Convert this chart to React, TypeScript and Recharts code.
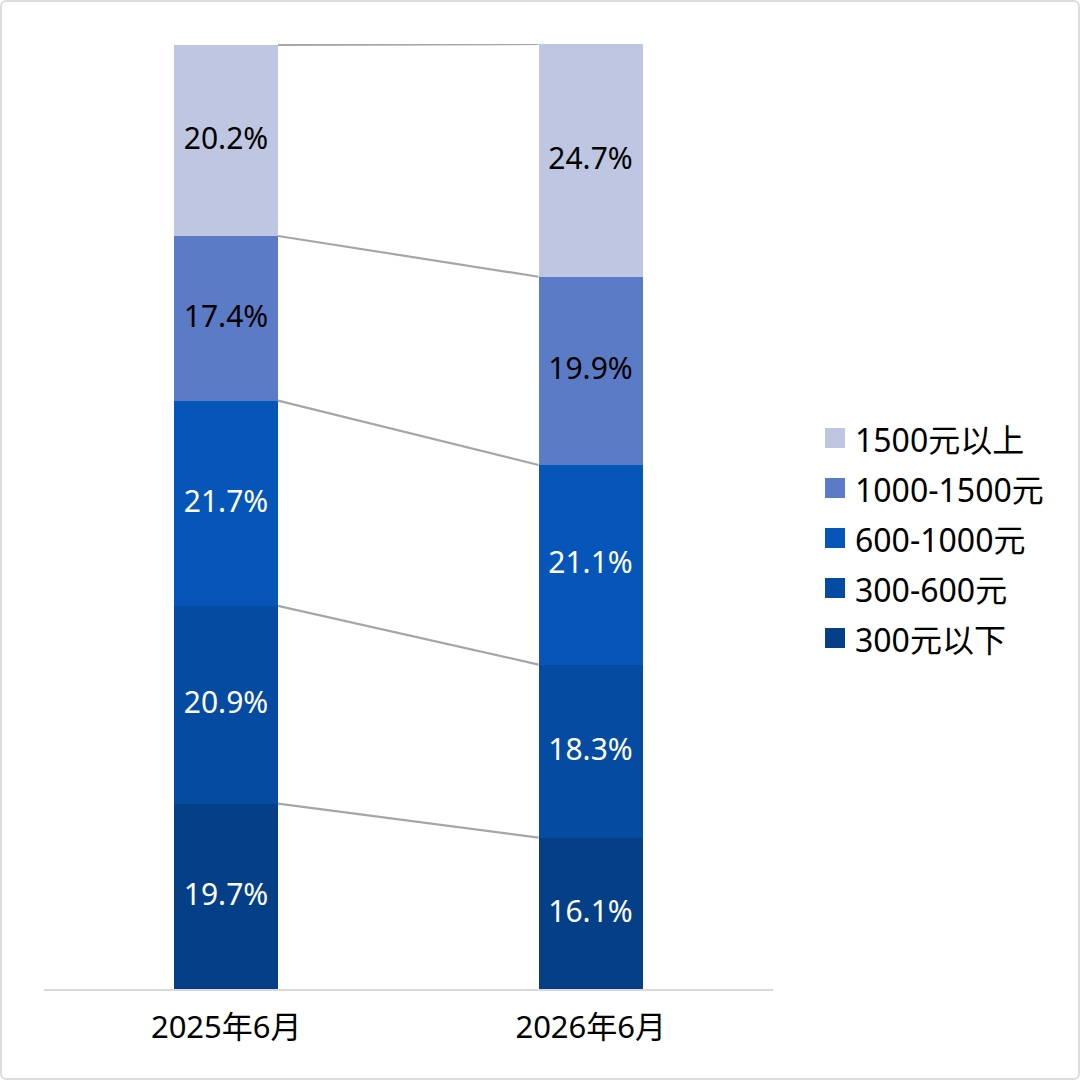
import { Bar, BarChart, LabelList, Legend, XAxis, YAxis } from "recharts";

const periods = ["2025年6月", "2026年6月"];
const below300 = [19.7, 16.1];
const from300to600 = [20.9, 18.3];
const from600to1000 = [21.7, 21.1];
const from1000to1500 = [17.4, 19.9];
const above1500 = [20.2, 24.7];

const series = [
	{ key: "below300", name: "300元以下", values: below300, color: "#043F88", text: "#FFFFFF" },
	{ key: "from300to600", name: "300-600元", values: from300to600, color: "#044BA1", text: "#FFFFFF" },
	{ key: "from600to1000", name: "600-1000元", values: from600to1000, color: "#0556B8", text: "#FFFFFF" },
	{ key: "from1000to1500", name: "1000-1500元", values: from1000to1500, color: "#5B7BC6", text: "#000000" },
	{ key: "above1500", name: "1500元以上", values: above1500, color: "#BFC6E2", text: "#000000" },
];

const data = periods.map((period, i) => {
	const row: Record<string, string | number> = { period };
	series.forEach((s) => {
		row[s.key] = s.values[i];
	});
	return row;
});

const FONT = '"Segoe UI", "Noto Sans", "Noto Sans CJK SC", sans-serif';

// top-right corner of the first bar's segment, per series, so the second bar can join it
const edges: Record<string, { x: number; y: number }> = {};

function segmentShape(key: string, color: string) {
	return (props: any) => {
		const { x, y, width, height, index } = props;
		let joint = null;
		if (index === 0) {
			edges[key] = { x: x + width, y };
		} else if (edges[key]) {
			joint = (
				<line
					x1={edges[key].x}
					y1={edges[key].y}
					x2={x}
					y2={y}
					stroke="#A6A6A6"
					strokeWidth={2.2}
				/>
			);
		}
		return (
			<g>
				<rect x={x} y={y} width={width} height={height} fill={color} shapeRendering="crispEdges" />
				{joint}
			</g>
		);
	};
}

function LegendBox() {
	return (
		<div style={{ fontFamily: FONT, fontSize: 32, color: "#000" }}>
			{[...series].reverse().map((s) => (
				<div key={s.key} style={{ display: "flex", alignItems: "center", height: 50 }}>
					<span style={{ width: 20, height: 20, background: s.color, marginLeft: 5, marginRight: 10 }} />
					<span>{s.name}</span>
				</div>
			))}
		</div>
	);
}

export default function App() {
	return (
		<div style={{ position: "absolute", left: 0, top: 0, width: 1080, height: 1080, background: "#fff" }}>
			<BarChart
				width={1080}
				height={1080}
				data={data}
				barSize={104}
				margin={{ top: 44, right: 57, bottom: 30, left: 44 }}
				style={{ fontFamily: FONT }}
			>
				<XAxis
					dataKey="period"
					height={60}
					tickLine={false}
					tickMargin={20}
					axisLine={{ stroke: "#D9D9D9", strokeWidth: 2 }}
					tick={{ fontSize: 31, fill: "#000", fontFamily: FONT }}
				/>
				<YAxis hide domain={[0, 100]} allowDataOverflow />
				<Legend
					layout="vertical"
					align="right"
					verticalAlign="middle"
					content={<LegendBox />}
					wrapperStyle={{ left: 820, top: 413, width: 250 }}
				/>
				{series.map((s) => (
					<Bar
						key={s.key}
						dataKey={s.key}
						name={s.name}
						stackId="share"
						fill={s.color}
						isAnimationActive={false}
						shape={segmentShape(s.key, s.color)}
					>
						<LabelList
							dataKey={s.key}
							position="center"
							offset={0}
							formatter={(v: any) => `${Number(v).toFixed(1)}%`}
							style={{ fontSize: 30, fill: s.text, fontFamily: FONT, transform: "translateY(-2px)" }}
						/>
					</Bar>
				))}
			</BarChart>
			<div
				style={{
					position: "absolute",
					inset: 0,
					border: "2px solid #DCDCDC",
					borderRadius: 6,
					pointerEvents: "none",
				}}
			/>
		</div>
	);
}
